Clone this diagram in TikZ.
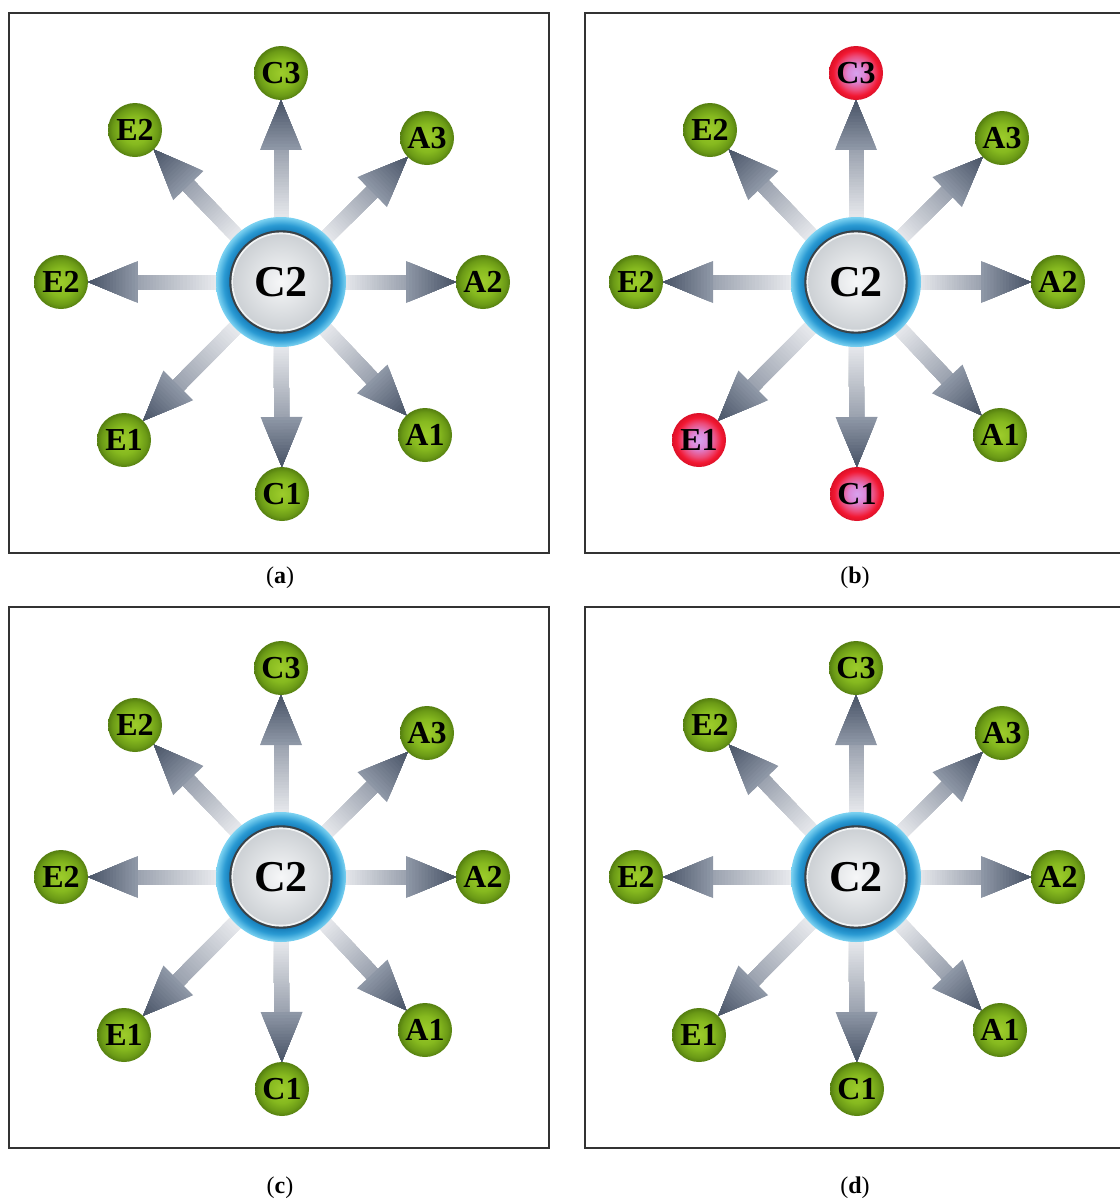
\documentclass[tikz,border=0pt]{standalone}
\usepackage{fontspec}
\setmainfont{Liberation Serif}
\usetikzlibrary{calc}
\pgfdeclarelayer{background}
\pgfsetlayers{background,main}
\definecolor{arrlight}{HTML}{F3F4F6}
\definecolor{arrmid}{HTML}{9CA3B0}
\definecolor{arrhead}{HTML}{8E97A6}
\definecolor{arrdark}{HTML}{4A5568}
\definecolor{gc0}{HTML}{9DCC2B}
\definecolor{gc1}{HTML}{86B91F}
\definecolor{gc2}{HTML}{6B9A16}
\definecolor{gc3}{HTML}{557F10}
\definecolor{rc0}{HTML}{D7A2EE}
\definecolor{rc1}{HTML}{DC86D6}
\definecolor{rc2}{HTML}{EC4A78}
\definecolor{rc3}{HTML}{F21832}
\definecolor{rc4}{HTML}{DC1028}
\definecolor{ringdark}{HTML}{147BB8}
\definecolor{ringmid}{HTML}{2A9AD3}
\definecolor{ringlight}{HTML}{7DD3F2}
\definecolor{hubline}{HTML}{3A4247}
\definecolor{hubrim}{HTML}{F2F4F5}
\definecolor{hubin}{HTML}{F6F7F8}
\definecolor{hubout}{HTML}{CDD1D5}
\definecolor{framecol}{HTML}{333333}
\pgfdeclareradialshading{ringshade}{\pgfpoint{0bp}{0bp}}{color(0bp)=(ringdark); color(19.5bp)=(ringdark); color(22bp)=(ringmid); color(25bp)=(ringlight); color(50bp)=(ringlight)}
\pgfdeclareradialshading{greenball}{\pgfpoint{0bp}{0bp}}{color(0bp)=(gc0); color(13bp)=(gc1); color(21bp)=(gc2); color(25bp)=(gc3); color(50bp)=(gc3)}
\pgfdeclareradialshading{redball}{\pgfpoint{0bp}{0bp}}{color(0bp)=(rc0); color(8bp)=(rc1); color(16bp)=(rc2); color(21bp)=(rc3); color(25bp)=(rc4); color(50bp)=(rc4)}
\tikzset{
  hub/.style={circle, minimum size=97.5pt, inner sep=0pt,
    font=\fontsize{33}{33}\selectfont\bfseries,
    path picture={
      \shade[shading=ringshade] (path picture bounding box.center) circle[radius=48.75pt];
      \fill[hubline] (path picture bounding box.center) circle[radius=38.8pt];
      \fill[hubrim] (path picture bounding box.center) circle[radius=37.2pt];
      \shade[inner color=hubin, outer color=hubout] (path picture bounding box.center) circle[radius=35.8pt];
    }},
  sat/.style={circle, minimum size=40.5pt, inner sep=0pt,
    font=\fontsize{24}{24}\selectfont\bfseries, shade, shading=greenball},
  satred/.style={sat, shading=redball},
  frame/.style={draw=framecol, line width=1.3pt},
  capt/.style={font=\fontsize{18}{18}\selectfont, inner sep=0pt}
}
\newcommand\blockarrow[2]{%
  \pgfmathanglebetweenpoints{\pgfpointanchor{#1}{center}}{\pgfpointanchor{#2}{center}}%
  \let\barang\pgfmathresult
  \pgfpointdiff{\pgfpointanchor{#1}{center}}{\pgfpointanchor{#2}{center}}%
  \pgfgetlastxy{\bardx}{\bardy}%
  \pgfmathsetmacro\bartip{veclen(\bardx,\bardy)/0.75-27}%
  \pgfmathsetmacro\barbase{\bartip-50}%
  \begin{scope}[shift={(#1.center)},rotate=\barang]
    \foreach \i in {0,...,29}{%
      \pgfmathsetmacro\sa{52+(\barbase-52)*\i/30}%
      \pgfmathsetmacro\sp{100*\i/29}%
      \fill[arrmid!\sp!arrlight] (\sa,-7.5) rectangle (\barbase+0.5,7.5);
    }
    \foreach \i in {0,...,15}{%
      \pgfmathsetmacro\sa{\barbase+50*\i/16}%
      \pgfmathsetmacro\sh{21*(1-\i/16)}%
      \pgfmathsetmacro\sp{100*\i/15}%
      \fill[arrdark!\sp!arrhead] (\sa,-\sh) -- (\bartip,0) -- (\sa,\sh) -- cycle;
    }
  \end{scope}}
\newcommand\panel[6]{%
  \node[hub] (#1c2) at (#2,#3) {C2};
  \node[#4] (#1c3) at ({#2},{#3-209}) {C3};
  \node[sat] (#1a3) at ({#2+146},{#3-144}) {A3};
  \node[sat] (#1a2) at ({#2+202},{#3}) {A2};
  \node[sat] (#1a1) at ({#2+144},{#3+153}) {A1};
  \node[#6] (#1c1) at ({#2+1},{#3+212}) {C1};
  \node[#5] (#1e1) at ({#2-157},{#3+158}) {E1};
  \node[sat] (#1e2l) at ({#2-220},{#3}) {E2};
  \node[sat] (#1e2t) at ({#2-146},{#3-152}) {E2};
  \begin{pgfonlayer}{background}
    \foreach \s in {c3,a3,a2,a1,c1,e1,e2l,e2t}{\blockarrow{#1c2}{#1\s}}
  \end{pgfonlayer}}
\begin{document}
\begin{tikzpicture}[x=0.75pt,y=-0.75pt]
  \useasboundingbox (0,0) rectangle (1120,1200);
  \draw[frame] (9,13) rectangle (549,553);
  \draw[frame] (1122,13) -- (585,13) -- (585,553) -- (1122,553);
  \draw[frame] (9,607) rectangle (549,1148);
  \draw[frame] (1122,607) -- (585,607) -- (585,1148) -- (1122,1148);
  \panel{pa}{281}{282}{sat}{sat}{sat}
  \panel{pb}{856}{282}{satred}{satred}{satred}
  \panel{pc}{281}{877}{sat}{sat}{sat}
  \panel{pd}{856}{877}{sat}{sat}{sat}
  \node[capt] (capa) at (280,578) {(\textbf{a})};
  \node[capt] (capb) at (855,578) {(\textbf{b})};
  \node[capt] (capc) at (280,1188) {(\textbf{c})};
  \node[capt] (capd) at (855,1188) {(\textbf{d})};
\end{tikzpicture}
\end{document}
